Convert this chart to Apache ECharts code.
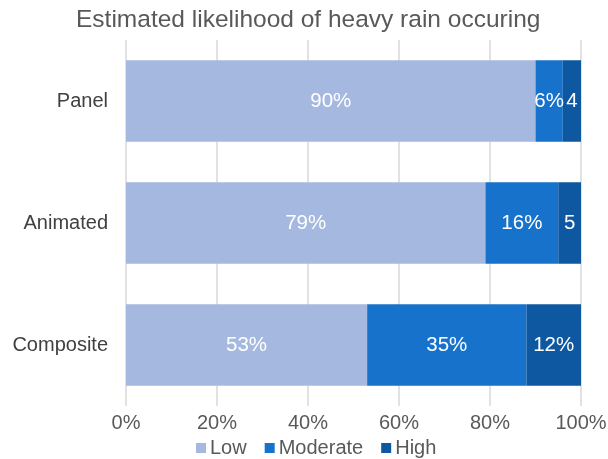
<!DOCTYPE html>
<html>
<head>
<meta charset="utf-8">
<style>
  html, body { margin: 0; padding: 0; background: #fff; }
  #chart { width: 608px; height: 459px; }
</style>
<script src="https://cdn.jsdelivr.net/npm/echarts@6/dist/echarts.min.js"></script>
</head>
<body>
<div id="chart"></div>
<script>
// Forecast categories, drawn top to bottom
const categories = ['Panel', 'Animated', 'Composite'];
// Share of estimates per likelihood level (percent)
const lowValues = [90, 79, 53];
const moderateValues = [6, 16, 35];
const highValues = [4, 5, 12];
const seriesNames = ['Low', 'Moderate', 'High'];
const tickLabels = ['0%', '20%', '40%', '60%', '80%', '100%'];

const colors = ['#a5b8df', '#1672cb', '#0e58a1'];
const font = 'Liberation Sans, Arial, sans-serif';

const chart = echarts.init(document.getElementById('chart'), null, { renderer: 'canvas' });

// Narrow segments only have room for the number
function segLabel(p) {
  return p.value < 6 ? String(p.value) : p.value + '%';
}

function makeSeries(name, data, color) {
  return {
    name: name,
    type: 'bar',
    stack: 'total',
    data: data,
    barCategoryGap: '33%',
    itemStyle: { color: color },
    label: {
      show: true,
      position: 'inside',
      color: '#ffffff',
      fontSize: 20.5,
      fontFamily: font,
      formatter: segLabel
    },
    emphasis: { disabled: true }
  };
}

chart.setOption({
  animation: false,
  color: colors,
  title: {
    text: 'Estimated likelihood of heavy rain occuring',
    left: 71,
    top: 3,
    textStyle: { fontFamily: font, fontSize: 24.5, fontWeight: 'normal', color: '#595959' }
  },
  legend: {
    data: seriesNames,
    top: 433,
    left: 191,
    itemWidth: 10,
    itemHeight: 10,
    itemGap: 18,
    icon: 'rect',
    textStyle: { fontFamily: font, fontSize: 20, color: '#595959', padding: [0, 0, 0, -1] }
  },
  grid: { left: 126, right: 27, top: 40, bottom: 53, containLabel: false, outerBoundsMode: 'none' },
  xAxis: {
    type: 'value',
    min: 0,
    max: 100,
    interval: 20,
    axisLine: { show: false },
    axisTick: { show: false },
    splitLine: { show: true, lineStyle: { color: '#d9d9d9', width: 1.5 } },
    axisLabel: {
      fontFamily: font,
      fontSize: 20,
      color: '#595959',
      margin: 7,
      formatter: function (v) { return tickLabels[v / 20]; }
    }
  },
  yAxis: {
    type: 'category',
    data: categories,
    inverse: true,
    axisLine: { show: false },
    axisTick: { show: false },
    axisLabel: { fontFamily: font, fontSize: 20, color: '#404040', margin: 18 }
  },
  series: [
    makeSeries(seriesNames[0], lowValues, colors[0]),
    makeSeries(seriesNames[1], moderateValues, colors[1]),
    makeSeries(seriesNames[2], highValues, colors[2])
  ]
});
</script>
</body>
</html>
